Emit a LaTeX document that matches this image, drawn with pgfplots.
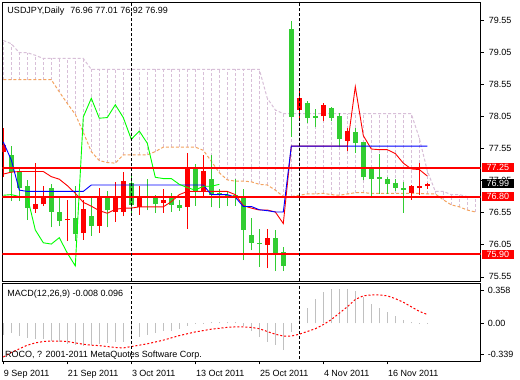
\documentclass[border=0pt]{standalone}
\usepackage{pgfplots}
\pgfplotsset{compat=1.18}
\usepackage{pgfplotstable}
\usepackage{fontspec}
\setmainfont{Liberation Sans}
\definecolor{cgreen}{RGB}{50,205,50}
\definecolor{thistlec}{RGB}{216,191,216}
\definecolor{sandyc}{RGB}{244,164,96}
\definecolor{silverc}{RGB}{192,192,192}
\definecolor{chikouc}{RGB}{0,255,0}

\pgfplotstableread{
i L H bL bH
1 76.73 77.58 77.19 77.45
2 76.73 77.25 76.94 77.19
3 76.44 77.06 76.62 76.96
6 76.32 76.99 76.56 76.94
7 76.34 76.78 76.42 76.56
9 76.11 76.96 76.21 76.46
11 76.19 76.77 76.34 76.50
13 76.32 76.89 76.59 76.80
16 76.51 77.12 76.67 77.01
18 76.59 77.08 76.77 76.80
19 76.55 76.83 76.68 76.80
21 76.56 76.85 76.67 76.81
22 76.58 76.75 76.62 76.67
24 76.66 77.30 76.87 77.26
26 76.63 77.44 76.82 77.08
27 76.62 76.91 76.83 76.86
28 76.65 76.87 76.80 76.82
29 76.65 77.08 76.80 76.82
30 75.81 76.92 76.28 76.79
31 75.96 76.47 76.08 76.20
32 75.71 76.29 76.06 76.08
34 75.64 76.28 75.92 76.15
35 75.64 76.01 75.72 75.93
36 77.73 79.53 78.04 79.41
38 77.94 78.29 78.02 78.25
39 77.88 78.16 78.03 78.05
41 77.97 78.20 78.03 78.18
42 77.57 78.10 77.69 78.05
44 77.48 77.86 77.63 77.80
45 77.05 77.65 77.10 77.65
46 76.80 77.26 77.08 77.26
47 76.84 77.47 77.08 77.10
48 76.84 77.10 76.99 77.07
49 76.89 77.08 76.94 77.01
50 76.55 77.03 76.90 76.93
}\greencandles

\pgfplotstableread{
i L H bL bH
0 77.11 77.86 77.50 77.61
4 76.55 77.32 76.61 76.69
5 76.65 76.97 76.68 76.81
8 76.11 76.75 76.43 76.45
10 76.13 76.75 76.23 76.60
12 76.24 76.94 76.34 76.81
14 76.41 77.02 76.56 76.81
15 76.49 77.18 76.56 77.04
17 76.52 76.97 76.64 76.81
20 76.55 76.91 76.70 76.75
23 76.30 77.48 76.64 77.26
25 76.81 77.44 76.88 77.20
33 75.68 76.30 76.05 76.16
37 77.99 78.44 78.15 78.33
40 77.97 78.25 78.05 78.23
43 77.51 77.87 77.67 77.82
51 76.75 76.98 76.85 76.96
52 76.82 77.32 76.94 76.96
53 76.92 77.01 76.96 76.99
}\redcandles

\pgfplotstableread{
i A B
0 78.62 79.23
1 78.62 79.18
2 78.62 79.04
3 78.62 79.04
4 78.62 79.00
5 78.62 78.95
6 78.62 78.95
7 78.43 78.95
8 78.25 78.95
9 78.08 78.95
10 77.80 78.95
11 77.50 78.78
12 77.36 78.78
13 77.33 78.78
14 77.32 78.78
15 77.45 78.78
16 77.45 78.78
17 77.45 78.78
18 77.45 78.78
19 77.50 78.78
20 77.57 78.78
21 77.57 78.78
22 77.57 78.78
23 77.57 78.78
24 77.57 78.78
25 77.52 78.78
26 77.35 78.78
27 77.17 78.78
28 77.06 78.78
29 77.04 78.78
30 77.04 78.78
31 77.03 78.78
32 76.99 78.78
33 76.98 78.33
34 76.90 78.15
35 76.80 78.09
36 76.80 78.09
37 76.82 78.09
38 76.84 78.09
39 76.84 78.09
40 76.85 78.09
41 76.83 78.09
42 76.82 78.09
43 76.84 78.09
44 76.86 78.09
45 76.86 78.09
46 76.85 78.09
47 76.85 78.09
48 76.85 78.09
49 76.85 78.09
50 76.85 78.09
51 76.85 78.09
52 76.85 77.71
53 76.84 77.20
54 76.84 76.88
55 76.75 76.88
56 76.67 76.83
57 76.64 76.83
58 76.59 76.80
59 76.56 76.80
}\cloud

\pgfplotstableread{
i tenkan kijun
0 77.15 77.65
1 77.18 77.37
2 77.19 76.90
3 77.19 76.88
4 77.19 76.88
5 77.19 76.88
6 77.11 76.88
7 77.07 76.88
8 76.97 76.88
9 76.85 76.88
10 76.71 76.88
11 76.65 76.98
12 76.58 76.98
13 76.54 76.98
14 76.60 76.98
15 76.62 76.98
16 76.62 76.98
17 76.64 76.98
18 76.64 76.98
19 76.64 76.98
20 76.64 76.98
21 76.72 76.98
22 76.83 76.98
23 76.88 76.98
24 76.88 76.98
25 76.88 76.98
26 76.88 76.83
27 76.88 76.83
28 76.88 76.83
29 76.83 76.79
30 76.66 76.645
31 76.62 76.645
32 76.59 76.595
33 76.59 76.58
34 76.56 76.56
35 76.38 76.56
36 77.585 77.585
37 77.585 77.585
38 77.585 77.585
39 77.585 77.585
40 77.585 77.585
41 77.585 77.585
42 77.585 77.585
43 77.585 77.585
44 78.51 77.585
45 77.75 77.585
46 77.54 77.585
47 77.53 77.585
48 77.53 77.585
49 77.47 77.585
50 77.32 77.585
51 77.23 77.585
52 77.22 77.585
53 77.12 77.585
}\tk

\pgfplotstableread{
i chikou
0 76.82
1 76.83
2 76.80
3 76.80
4 76.28
5 76.08
6 76.06
7 76.16
8 75.92
9 75.72
10 78.04
11 78.33
12 78.02
13 78.03
14 78.23
15 78.03
16 77.69
17 77.82
18 77.63
19 77.10
20 77.08
21 77.08
22 76.99
23 76.94
24 76.90
25 76.96
26 76.96
27 76.99
}\chikou

\pgfplotstableread{
i macd signal
0 -0.13 -0.37
1 -0.11 -0.32
2 -0.14 -0.28
3 -0.16 -0.24
4 -0.17 -0.215
5 -0.17 -0.20
6 -0.19 -0.195
7 -0.21 -0.195
8 -0.23 -0.20
9 -0.24 -0.215
10 -0.25 -0.23
11 -0.24 -0.24
12 -0.23 -0.245
13 -0.22 -0.255
14 -0.21 -0.265
15 -0.20 -0.27
16 -0.17 -0.255
17 -0.15 -0.24
18 -0.13 -0.225
19 -0.11 -0.205
20 -0.09 -0.185
21 -0.08 -0.16
22 -0.06 -0.135
23 -0.03 -0.115
24 -0.005 -0.095
25 0.008 -0.08
26 0.012 -0.065
27 0.015 -0.055
28 0.015 -0.045
29 0.01 -0.04
30 -0.03 -0.04
31 -0.08 -0.045
32 -0.15 -0.06
33 -0.20 -0.09
34 -0.24 -0.12
35 -0.29 -0.14
36 -0.10 -0.14
37 0.08 -0.12
38 0.17 -0.09
39 0.26 -0.06
40 0.34 -0.015
41 0.375 0.04
42 0.37 0.11
43 0.375 0.18
44 0.35 0.26
45 0.29 0.30
46 0.215 0.31
47 0.165 0.31
48 0.12 0.30
49 0.08 0.27
50 0.04 0.23
51 0.015 0.18
52 0.008 0.13
53 -0.008 0.096
}\macdtab

\pgfplotsset{
  rangebar/.style 2 args={draw=none, mark=none,
    error bars/.cd, y dir=plus, y explicit, error mark=none,
    error bar style={draw=#1, solid, #2}},
}

\begin{document}
\begin{tikzpicture}[font=\fontsize{9}{10.8}\selectfont]
\path[use as bounding box, fill=white] (0pt,0pt) rectangle (520pt,380pt);

\begin{axis}[
  at={(2.5pt,98.5pt)}, anchor=south west,
  scale only axis, width=478.2pt, height=279.5pt,
  xmin=-0.1, xmax=59.675, ymin=75.477, ymax=79.83,
  clip mode=individual,
  axis line style={black, line width=0.8pt},
  xtick=\empty,
  ytick={75.55,76.05,76.55,77.05,77.55,78.05,78.55,79.05,79.55},
  yticklabels={75.55,76.05,76.55,77.05,77.55,78.05,78.55,79.05,79.55},
  ytick pos=right, yticklabel pos=right,
  tick align=outside, major tick length=3pt,
  tick style={black, line width=0.6pt},
  yticklabel style={anchor=west, inner sep=0pt, xshift=5pt},
]
% cloud hatch
\addplot[rangebar={thistlec}{line width=1pt, dash pattern=on 3pt off 2pt}]
  table[x=i, y=A, y error plus expr={\thisrow{B}-\thisrow{A}}] {\cloud};
\addplot[sandyc, line width=1pt, dash pattern=on 3pt off 2pt] table[x=i, y=A] {\cloud};
\addplot[thistlec, line width=1pt, dash pattern=on 3pt off 2pt] table[x=i, y=B] {\cloud};
% wicks
\addplot[rangebar={cgreen}{line width=1pt}]
  table[x=i, y=L, y error plus expr={\thisrow{H}-\thisrow{L}}] {\greencandles};
\addplot[rangebar={red}{line width=1pt}]
  table[x=i, y=L, y error plus expr={\thisrow{H}-\thisrow{L}}] {\redcandles};
% bodies
\addplot[rangebar={cgreen}{line width=5pt}]
  table[x=i, y=bL, y error plus expr={\thisrow{bH}-\thisrow{bL}}] {\greencandles};
\addplot[rangebar={red}{line width=5pt}]
  table[x=i, y=bL, y error plus expr={\thisrow{bH}-\thisrow{bL}}] {\redcandles};
% ichimoku lines
\addplot[red, line width=0.9pt] table[x=i, y=tenkan] {\tk};
\addplot[blue, line width=0.9pt] table[x=i, y=kijun] {\tk};
\addplot[chikouc, line width=0.9pt] table[x=i, y=chikou] {\chikou};
% horizontal levels
\addplot[red, line width=2pt] coordinates {(-1,77.25) (61,77.25)};
\addplot[red, line width=2pt] coordinates {(-1,76.80) (61,76.80)};
\addplot[red, line width=2pt] coordinates {(-1,75.90) (61,75.90)};
% vertical dashed lines
\addplot[black, line width=1pt, dash pattern=on 3pt off 2pt] coordinates {(16,75.4) (16,79.9)};
\addplot[black, line width=1pt, dash pattern=on 3pt off 2pt] coordinates {(37,75.4) (37,79.9)};
% price labels
\node[anchor=west, fill=red, text=white, inner sep=0pt, minimum width=32pt, minimum height=9pt, xshift=1pt] at (axis cs:59.675,77.25) {77.25};
\node[anchor=west, fill=black, text=white, inner sep=0pt, minimum width=32pt, minimum height=9pt, xshift=1pt] at (axis cs:59.675,77.00) {76.99};
\node[anchor=west, fill=red, text=white, inner sep=0pt, minimum width=32pt, minimum height=9pt, xshift=1pt] at (axis cs:59.675,76.80) {76.80};
\node[anchor=west, fill=red, text=white, inner sep=0pt, minimum width=32pt, minimum height=9pt, xshift=1pt] at (axis cs:59.675,75.90) {75.90};
\end{axis}

\begin{axis}[
  at={(2.5pt,18.5pt)}, anchor=south west,
  scale only axis, width=478.2pt, height=78pt,
  xmin=-0.1, xmax=59.675, ymin=-0.4185, ymax=0.435,
  clip mode=individual,
  axis line style={black, line width=0.8pt},
  xtick={0,8,16,24,32,40,48},
  xticklabels={9 Sep 2011,21 Sep 2011,3 Oct 2011,13 Oct 2011,25 Oct 2011,4 Nov 2011,16 Nov 2011},
  xtick pos=bottom,
  xticklabel style={anchor=north west, inner sep=0pt, yshift=-5.5pt, xshift=0.5pt},
  ytick={-0.339,0,0.358},
  yticklabels={-0.339,0.00,0.358},
  ytick pos=right, yticklabel pos=right,
  tick align=outside, major tick length=3pt,
  tick style={black, line width=0.6pt},
  yticklabel style={anchor=west, inner sep=0pt, xshift=4pt},
]
\addplot[ycomb, silverc, line width=1pt] table[x=i, y=macd] {\macdtab};
\addplot[red, line width=1pt, dash pattern=on 2pt off 2pt] table[x=i, y=signal] {\macdtab};
\addplot[black, line width=1pt, dash pattern=on 3pt off 2pt] coordinates {(16,-0.5) (16,0.5)};
\addplot[black, line width=1pt, dash pattern=on 3pt off 2pt] coordinates {(37,-0.5) (37,0.5)};
\end{axis}

\node[anchor=base west, inner sep=0pt] at (7.3pt,366pt) {USDJPY,Daily\hspace{6pt}76.96 77.01 76.92 76.99};
\node[anchor=base west, inner sep=0pt] at (7.3pt,83pt) {MACD(12,26,9) -0.008 0.096};
\node[anchor=base west, inner sep=0pt] at (5pt,22pt) {ROCO, ? 2001-2011 MetaQuotes Software Corp.};
\end{tikzpicture}
\end{document}
